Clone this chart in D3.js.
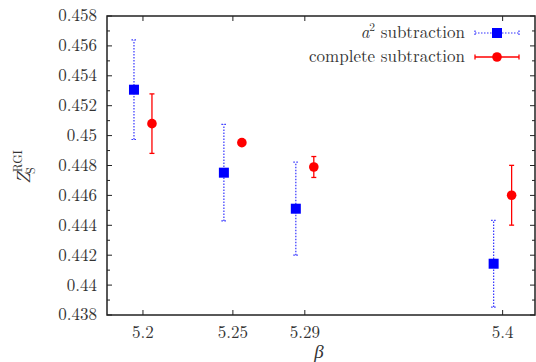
<!DOCTYPE html>
<html><head><meta charset="utf-8">
<script src="https://cdn.jsdelivr.net/npm/d3@7"></script>
<style>body{margin:0;background:#fff}svg{display:block}</style>
</head><body><svg id="c" width="536" height="362"></svg>
<script>
const betaTicks = [5.2, 5.25, 5.29, 5.4];
const tickLabels = ["5.2", "5.25", "5.29", "5.4"];
const yTicks = [0.438, 0.44, 0.442, 0.444, 0.446, 0.448, 0.45, 0.452, 0.454, 0.456, 0.458];
const yTickLabels = ["0.438", "0.44", "0.442", "0.444", "0.446", "0.448", "0.45", "0.452", "0.454", "0.456", "0.458"];
const betaA2 = [5.195, 5.245, 5.285, 5.395];
const zA2 = [0.45307, 0.44752, 0.44511, 0.44143];
const errA2 = [0.00333, 0.00323, 0.00311, 0.00290];
const betaComplete = [5.205, 5.255, 5.295, 5.405];
const zComplete = [0.45080, 0.44953, 0.44790, 0.44601];
const errComplete = [0.00199, 0.00009, 0.00070, 0.00200];
const seriesNames = ["a² subtraction", "complete subtraction"];

const FONT = "'Latin Modern Roman', 'CMU Serif', 'Liberation Serif', serif";
const svg = d3.select("#c");
const L = 107, R = 535, T = 16, B = 315;
const x = d3.scaleLinear().domain([5.18, 5.418]).range([L, R]);
const y = d3.scaleLinear().domain([0.438, 0.458]).range([B, T]);

const minor = d3.range(0, 20).map(i => 0.439 + i * 0.002).filter(v => v < 0.458);
const g = svg.append("g").attr("stroke", "#222").attr("stroke-width", 1);
yTicks.forEach(v => {
  g.append("line").attr("x1", L).attr("x2", L + 5).attr("y1", y(v)).attr("y2", y(v));
  g.append("line").attr("x1", R).attr("x2", R - 5).attr("y1", y(v)).attr("y2", y(v));
});
minor.forEach(v => {
  g.append("line").attr("x1", L).attr("x2", L + 3).attr("y1", y(v)).attr("y2", y(v));
  g.append("line").attr("x1", R).attr("x2", R - 3).attr("y1", y(v)).attr("y2", y(v));
});
betaTicks.forEach(v => {
  g.append("line").attr("x1", x(v)).attr("x2", x(v)).attr("y1", B).attr("y2", B - 5);
  g.append("line").attr("x1", x(v)).attr("x2", x(v)).attr("y1", T).attr("y2", T + 5);
});
svg.append("rect").attr("x", L).attr("y", T).attr("width", R - L).attr("height", B - T)
  .attr("fill", "none").attr("stroke", "#222").attr("stroke-width", 1.5);

const txt = (sel) => sel.attr("fill", "#333").style("font-family", FONT);
yTicks.forEach((v, i) => {
  txt(svg.append("text")).attr("x", 97).attr("y", y(v)).attr("dy", "0.32em")
    .attr("text-anchor", "end").attr("font-size", 17).text(yTickLabels[i]);
});
betaTicks.forEach((v, i) => {
  txt(svg.append("text")).attr("x", x(v)).attr("y", 333).attr("dy", "0.32em")
    .attr("text-anchor", "middle").attr("font-size", 17).text(tickLabels[i]);
});

txt(svg.append("text")).attr("x", 319).attr("y", 358).attr("text-anchor", "middle")
  .attr("font-size", 19).attr("font-style", "italic").text("β");
const yl = txt(svg.append("text")).attr("transform", "translate(30,167) rotate(-90)")
  .attr("text-anchor", "middle").attr("font-size", 19);
yl.append("tspan").attr("font-style", "italic").text("Z");
yl.append("tspan").attr("font-size", 12).attr("dy", -8).text("RGI");
yl.append("tspan").attr("font-size", 12).attr("dx", -24).attr("dy", 13).text("S");

function errBar(gx, cx, lo, hi, color, dash, w) {
  const c = gx.append("g").attr("stroke", color).attr("stroke-width", w);
  if (dash) c.attr("stroke-dasharray", dash);
  c.append("line").attr("x1", cx).attr("x2", cx).attr("y1", lo).attr("y2", hi);
  c.append("line").attr("x1", cx - 2.5).attr("x2", cx + 2.5).attr("y1", lo).attr("y2", lo);
  c.append("line").attr("x1", cx - 2.5).attr("x2", cx + 2.5).attr("y1", hi).attr("y2", hi);
}
const gb = svg.append("g");
betaA2.forEach((b, i) => {
  errBar(gb, x(b), y(zA2[i] - errA2[i]), y(zA2[i] + errA2[i]), "#3333ff", "1.5,1.5", 1.2);
  gb.append("rect").attr("x", x(b) - 5).attr("y", y(zA2[i]) - 5).attr("width", 10).attr("height", 10).attr("fill", "#0000ff");
});
const gr = svg.append("g");
betaComplete.forEach((b, i) => {
  errBar(gr, x(b), y(zComplete[i] - errComplete[i]), y(zComplete[i] + errComplete[i]), "#ff0000", null, 1.3);
  gr.append("circle").attr("cx", x(b)).attr("cy", y(zComplete[i])).attr("r", 4.8).attr("fill", "#ff0000");
});

const lg = svg.append("g");
const rows = [33, 57];
const lt1 = txt(lg.append("text")).attr("x", 465).attr("y", rows[0]).attr("dy", "0.32em").attr("text-anchor", "end").attr("font-size", 17);
lt1.append("tspan").attr("font-style", "italic").text("a");
lt1.append("tspan").attr("font-size", 11.5).attr("dy", -7).text("2");
lt1.append("tspan").attr("dy", 7).text(" subtraction");
txt(lg.append("text")).attr("x", 465).attr("y", rows[1]).attr("dy", "0.32em").attr("text-anchor", "end").attr("font-size", 17).text(seriesNames[1]);
function legErr(cy, color, dash, w) {
  const c = lg.append("g").attr("stroke", color).attr("stroke-width", w);
  if (dash) c.attr("stroke-dasharray", dash);
  c.append("line").attr("x1", 475).attr("x2", 519).attr("y1", cy).attr("y2", cy);
  c.append("line").attr("x1", 475).attr("x2", 475).attr("y1", cy - 2.5).attr("y2", cy + 2.5);
  c.append("line").attr("x1", 519).attr("x2", 519).attr("y1", cy - 2.5).attr("y2", cy + 2.5);
}
legErr(rows[0], "#3333ff", "1.5,1.5", 1.2);
lg.append("rect").attr("x", 497 - 5).attr("y", rows[0] - 5).attr("width", 10).attr("height", 10).attr("fill", "#0000ff");
legErr(rows[1], "#ff0000", null, 1.3);
lg.append("circle").attr("cx", 497).attr("cy", rows[1]).attr("r", 4.8).attr("fill", "#ff0000");
</script></body></html>
